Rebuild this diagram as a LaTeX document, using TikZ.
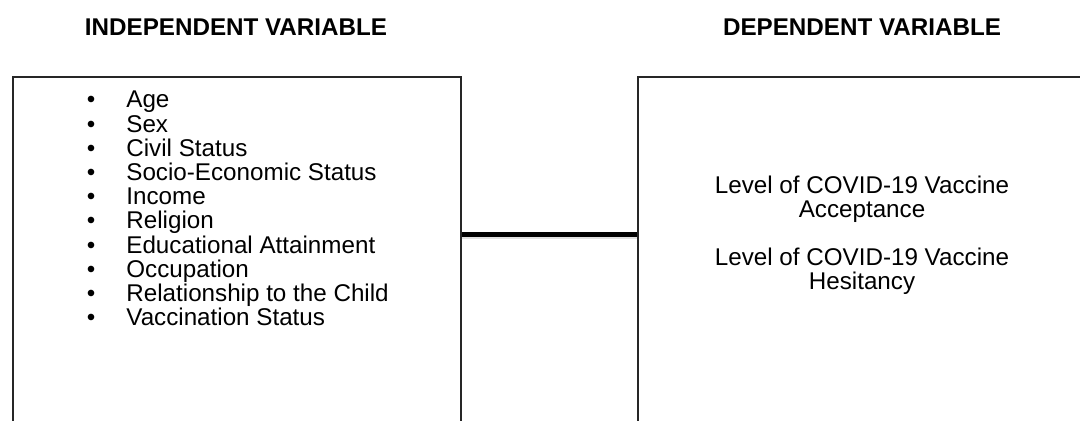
\documentclass[tikz,border=0pt]{standalone}
\usepackage{fontspec}
\setmainfont{Liberation Sans}
\usetikzlibrary{positioning}

\tikzset{
  varbox/.style={draw=black!85, line width=1pt, minimum width=224pt,
    minimum height=200pt, anchor=north west, inner sep=0pt},
  heading/.style={font=\fontsize{12.1}{12.1}\bfseries, anchor=base, inner sep=0pt},
  item/.style={anchor=base west, inner sep=0pt},
  dot/.style={anchor=base, inner sep=0pt},
}

\begin{document}
\begin{tikzpicture}[x=0.5pt,y=-0.5pt,font=\fontsize{12.1}{12.1}\selectfont]
\useasboundingbox (0,0) rectangle (1080,421);
\clip (0,0) rectangle (1080,421);

% titles
\node[heading] (ivtitle) at (236,36) {INDEPENDENT VARIABLE};
\node[heading] (dvtitle) at (862,36) {DEPENDENT VARIABLE};

% the two boxes, running off the page
\node[varbox] (iv) at (12,76) {};
\node[varbox, minimum width=240pt] (dv) at (637,76) {};

% list of variables
\foreach \name [count=\i] in {Age, Sex, Civil Status, Socio-Economic Status,
  Income, Religion, Educational Attainment, Occupation,
  Relationship to the Child, Vaccination Status}
{
  \node[dot] (bul\i) at (91,{108+24.2*(\i-1)}) {\textbullet};
  \node[item] (var\i) at (126,{108+24.2*(\i-1)}) {\name};
}

\node[align=center, anchor=base, inner sep=0pt] (acc) at (862,218)
  {Level of COVID-19 Vaccine\\Acceptance};
\node[align=center, anchor=base, inner sep=0pt] (hes) at (862,290)
  {Level of COVID-19 Vaccine\\Hesitancy};

% link between the boxes
\coordinate (link) at (0,235);
\coordinate (shade) at (0,238);
\draw[black!12, line width=1.5pt] (iv.east |- shade) -- (dv.west |- shade);
\draw[line width=2.5pt] (iv.east |- link) -- (dv.west |- link);
\end{tikzpicture}
\end{document}
